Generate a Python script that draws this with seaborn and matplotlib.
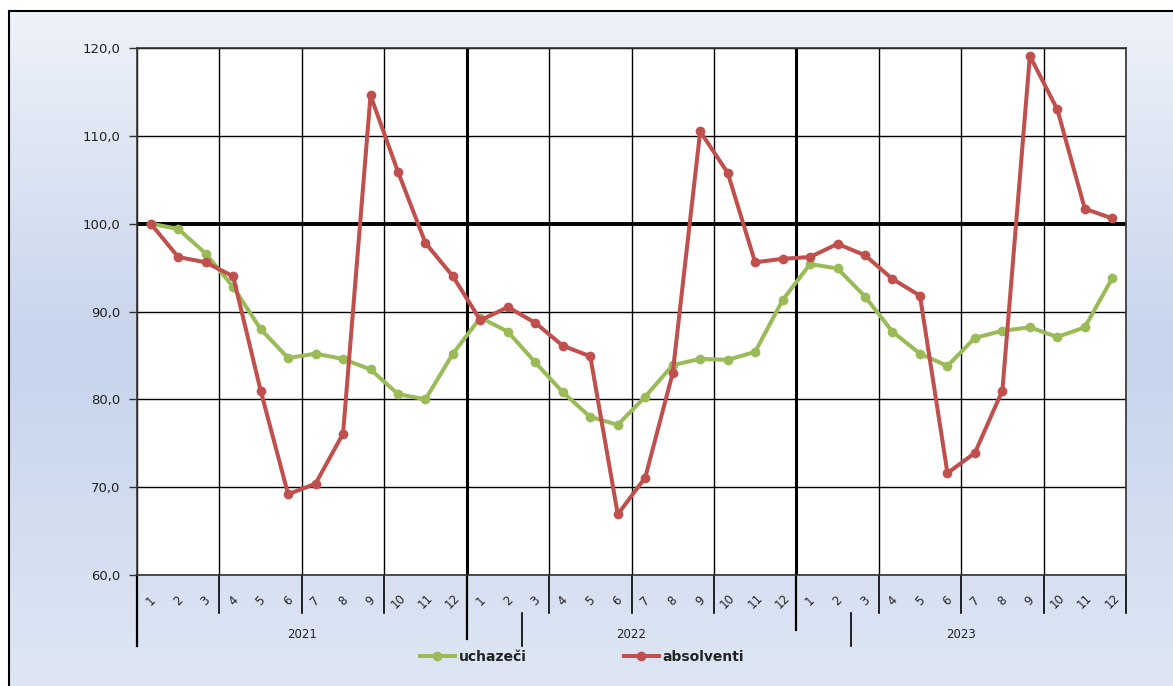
import numpy as np
import pandas as pd
import matplotlib
matplotlib.use("Agg")
import matplotlib.pyplot as plt
import seaborn as sns
from matplotlib.colors import LinearSegmentedColormap
from matplotlib.lines import Line2D

# ---------------- data ----------------
years = ["2021", "2022", "2023"]
months = [str(m) for m in range(1, 13)]
uchazeci = [100.0, 99.4, 96.6, 92.8, 88.0, 84.7, 85.2, 84.6, 83.4, 80.6, 80.0, 85.2,
            89.3, 87.7, 84.2, 80.8, 78.0, 77.1, 80.3, 83.9, 84.6, 84.5, 85.4, 91.3,
            95.4, 94.9, 91.7, 87.7, 85.2, 83.8, 87.0, 87.8, 88.2, 87.1, 88.2, 93.8]
absolventi = [100.0, 96.2, 95.6, 94.0, 81.0, 69.2, 70.4, 76.1, 114.6, 105.9, 97.8, 94.0,
              89.0, 90.5, 88.7, 86.1, 84.9, 66.9, 71.1, 83.0, 110.5, 105.8, 95.6, 96.0,
              96.2, 97.7, 96.4, 93.7, 91.8, 71.6, 73.9, 81.0, 119.1, 113.0, 101.7, 100.6]
series_names = ["uchazeči", "absolventi"]
y_ticks = [60, 70, 80, 90, 100, 110, 120]

colors = {"uchazeči": "#9bbb59", "absolventi": "#c0504d"}

n = len(years) * len(months)
idx = np.arange(n)
df = pd.DataFrame({
    "i": np.concatenate([idx, idx]),
    "value": uchazeci + absolventi,
    "series": [series_names[0]] * n + [series_names[1]] * n,
})

# ---------------- figure ----------------
W, H = 1173, 686
fig = plt.figure(figsize=(W / 100, H / 100), dpi=100)
fig.patch.set_facecolor("white")

# gradient background with border (left/top)
bg = fig.add_axes([9 / W, 0, 1 - 9 / W, 1 - 11 / H], zorder=-5)
cmap = LinearSegmentedColormap.from_list(
    "g", [(0, "#eef2f9"), (0.5, "#c6d4ec"), (1.0, "#dee6f4")])
grad = np.linspace(0, 1, 256).reshape(-1, 1)
bg.imshow(grad, aspect="auto", cmap=cmap, extent=[0, 1, 0, 1], origin="upper")
bg.set_xlim(0, 1); bg.set_ylim(0, 1)
bg.set_xticks([]); bg.set_yticks([])
for s in ["right", "bottom"]:
    bg.spines[s].set_visible(False)
for s in ["left", "top"]:
    bg.spines[s].set_linewidth(1.5)
    bg.spines[s].set_color("black")

ax_l, ax_r, ax_t, ax_b = 137 / W, 1126 / W, 1 - 48 / H, 1 - 575 / H
ax = fig.add_axes([ax_l, ax_b, ax_r - ax_l, ax_t - ax_b])
ax.set_facecolor("white")

sns.lineplot(data=df, x="i", y="value", hue="series", palette=colors,
             marker="o", markersize=7, markeredgewidth=0, linewidth=2.9,
             ax=ax, legend=False, zorder=5)

ax.set_xlim(-0.5, n - 0.5)
ax.set_ylim(60, 120)
ax.set_yticks(y_ticks)
ax.set_yticklabels([f"{v:.1f}".replace(".", ",") for v in y_ticks],
                   fontsize=9.5, color="#222222")
ax.tick_params(axis="y", length=6, width=1, color="#333333", pad=6)
ax.set_xticks([])
ax.set_xlabel("")
ax.set_ylabel("")

# grid
for v in y_ticks:
    ax.axhline(v, color="black", lw=1.0 if v != 100 else 2.8, zorder=1)
for k in range(0, n + 1, 3):
    lw = 2.2 if k in (12, 24) else 1.0
    ax.axvline(k - 0.5, color="black", lw=lw, zorder=1)
for s in ax.spines.values():
    s.set_color("#333333")
    s.set_linewidth(1.2)

# category axis labels (months and years)
trans = ax.get_xaxis_transform()
for i in range(n):
    ax.text(i, -0.05, months[i % 12], transform=trans, rotation=45,
            ha="center", va="center", fontsize=8.5, color="#222222", clip_on=False)
for k in range(0, n + 1, 3):
    ax.plot([k - 0.5, k - 0.5], [0, -38 / 527], transform=trans,
            color="black", lw=1.2, clip_on=False)
for k, depth in zip([0, 12, 24], [71, 64, 55]):
    ax.plot([k - 0.5, k - 0.5], [0, -depth / 527], transform=trans,
            color="black", lw=1.6, clip_on=False)
for k in [13.5, 25.5]:
    ax.plot([k, k], [-38 / 527, -71 / 527], transform=trans,
            color="black", lw=1.2, clip_on=False)
for j, y in enumerate(years):
    ax.text(12 * j + 5.5, -59 / 527, y, transform=trans, ha="center",
            va="center", fontsize=8.5, color="#222222")

# legend
handles = [Line2D([0], [0], color=colors[s], lw=2.9, marker="o",
                  markersize=7, markeredgewidth=0) for s in series_names]
leg = fig.legend(handles, series_names, loc="center", ncol=2,
                 bbox_to_anchor=(582 / W, 1 - 657 / H), frameon=False,
                 fontsize=10, handlelength=2.5, columnspacing=7,
                 handletextpad=0.3)
for t in leg.get_texts():
    t.set_fontweight("bold")
    t.set_color("#222222")

fig.savefig("out.png", dpi=100)
